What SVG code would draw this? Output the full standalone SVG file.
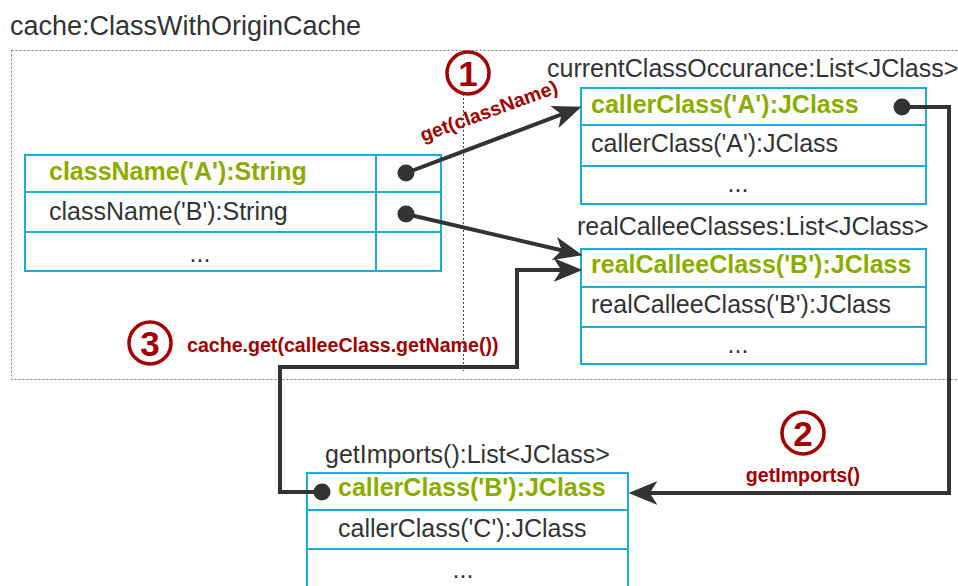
<svg xmlns="http://www.w3.org/2000/svg" width="958" height="586" viewBox="0 0 958 586">
<defs>
<style>
.t{font-family:"Liberation Sans",Arial,sans-serif;font-size:25px;fill:#333}
.b{font-family:"Liberation Sans",Arial,sans-serif;font-size:25px;font-weight:bold;fill:#8BAD00}
.r{font-family:"Liberation Sans",Arial,sans-serif;font-size:19.6px;font-weight:bold;fill:#A50000}
.n{font-family:"Liberation Sans",Arial,sans-serif;font-size:35px;font-weight:bold;fill:#A50000;text-anchor:middle}
.c{fill:#fff;stroke:#A50000;stroke-width:3.5}
.tb{fill:#fff;stroke:#1BADD8;stroke-width:2}
.ln{stroke:#1BADD8;stroke-width:2}
.con{fill:none;stroke:#333;stroke-width:4}
.dot{fill:#333}
.mid{text-anchor:middle}
</style>
<marker id="ah" markerUnits="userSpaceOnUse" markerWidth="30" markerHeight="26" viewBox="0 0 28 24" refX="19" refY="12" orient="auto">
<path d="M0,1 L27,12 L0,23 L7,12 z" fill="#333"/>
</marker>
</defs>

<g id="cache">
<text class="t" x="10" y="35" style="font-size:27px">cache:ClassWithOriginCache</text>
<rect x="11.5" y="50.5" width="960" height="329" fill="none" stroke="#777" stroke-width="1" stroke-dasharray="2,2"/>
<line x1="463.5" y1="50" x2="463.5" y2="371" stroke="#444" stroke-width="1" stroke-dasharray="2,2"/>
</g>

<g id="classNames">
<rect class="tb" x="25" y="155" width="416" height="116"/>
<line class="ln" x1="25" y1="192" x2="441" y2="192"/>
<line class="ln" x1="25" y1="232" x2="441" y2="232"/>
<line class="ln" x1="376" y1="155" x2="376" y2="271"/>
<text class="b" x="49" y="180">className('A'):String</text>
<text class="t" x="49" y="220">className('B'):String</text>
<text class="t mid" x="200" y="262">...</text>
</g>

<g id="currentClassOccurance">
<text class="t" x="547" y="77">currentClassOccurance:List&lt;JClass&gt;</text>
<rect class="tb" x="581" y="88" width="345" height="116"/>
<line class="ln" x1="581" y1="125" x2="926" y2="125"/>
<line class="ln" x1="581" y1="166" x2="926" y2="166"/>
<text class="b" x="591" y="113">callerClass('A'):JClass</text>
<text class="t" x="591" y="152">callerClass('A'):JClass</text>
<text class="t mid" x="738" y="192">...</text>
</g>

<g id="realCalleeClasses">
<text class="t" x="577" y="235">realCalleeClasses:List&lt;JClass&gt;</text>
<rect class="tb" x="581" y="249" width="345" height="115"/>
<line class="ln" x1="581" y1="287" x2="926" y2="287"/>
<line class="ln" x1="581" y1="327" x2="926" y2="327"/>
<text class="b" x="591" y="273">realCalleeClass('B'):JClass</text>
<text class="t" x="591" y="313">realCalleeClass('B'):JClass</text>
<text class="t mid" x="738" y="353">...</text>
</g>

<g id="getImports">
<text class="t" x="325" y="463">getImports():List&lt;JClass&gt;</text>
<rect class="tb" x="307" y="473" width="321" height="120"/>
<line class="ln" x1="307" y1="510" x2="628" y2="510"/>
<line class="ln" x1="307" y1="549" x2="628" y2="549"/>
<text class="b" x="338" y="496">callerClass('B'):JClass</text>
<text class="t" x="338" y="537">callerClass('C'):JClass</text>
<text class="t mid" x="463" y="578">...</text>
</g>

<g id="connectors">
<line class="con" x1="406" y1="173" x2="573.5" y2="109.8" marker-end="url(#ah)"/>
<line class="con" x1="406" y1="214" x2="574.2" y2="253.2" marker-end="url(#ah)"/>
<polyline class="con" points="902,107 949,107 949,493 637,493" marker-end="url(#ah)"/>
<polyline class="con" points="322,492 280,492 280,367 517,367 517,270 574,270" marker-end="url(#ah)"/>
<circle class="dot" cx="406" cy="173" r="8.5"/>
<circle class="dot" cx="406" cy="214" r="8.5"/>
<circle class="dot" cx="902" cy="107" r="8.5"/>
<circle class="dot" cx="322" cy="492" r="8.5"/>
</g>

<g id="label1">
<circle class="c" cx="468" cy="73" r="21"/>
<text class="n" x="468" y="85.5">1</text>
<text class="r" transform="translate(423,142) rotate(-20)">get(className)</text>
</g>
<g id="label2">
<circle class="c" cx="803" cy="433" r="21"/>
<text class="n" x="803" y="445.5">2</text>
<text class="r mid" x="803" y="482">getImports()</text>
</g>
<g id="label3">
<circle class="c" cx="150" cy="343" r="21"/>
<text class="n" x="150" y="355.5">3</text>
<text class="r" x="187" y="352">cache.get(calleeClass.getName())</text>
</g>
</svg>
